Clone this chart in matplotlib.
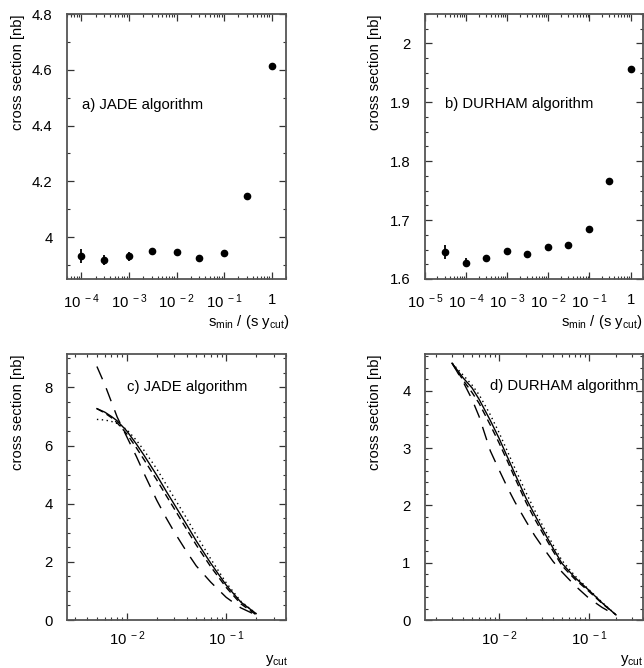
import numpy as np
import matplotlib
matplotlib.use("Agg")
import matplotlib.pyplot as plt
from matplotlib.ticker import FixedLocator, LogLocator, MultipleLocator, NullFormatter

plt.rcParams['font.family'] = ['Liberation Sans', 'DejaVu Sans']
plt.rcParams['mathtext.fontset'] = 'custom'
plt.rcParams['mathtext.rm'] = 'Liberation Sans'
plt.rcParams['mathtext.it'] = 'Liberation Sans:italic'
plt.rcParams['mathtext.default'] = 'rm'

# ---- panel a: JADE, smin dependence ----
a_x = [1e-4, 3e-4, 1e-3, 3e-3, 1e-2, 3e-2, 1e-1, 3e-1, 1.0]
a_y = [3.933, 3.919, 3.931, 3.952, 3.946, 3.924, 3.944, 4.148, 4.613]
a_err = [0.024, 0.018, 0.015, 0.010, 0.006, 0.006, 0.006, 0.004, 0.004]

# ---- panel b: DURHAM, smin dependence ----
b_x = [3e-5, 1e-4, 3e-4, 1e-3, 3e-3, 1e-2, 3e-2, 1e-1, 3e-1, 1.0]
b_y = [1.646, 1.628, 1.635, 1.648, 1.642, 1.654, 1.658, 1.685, 1.767, 1.957]
b_err = [0.012, 0.008, 0.006, 0.004, 0.003, 0.003, 0.003, 0.003, 0.003, 0.003]

# ---- panel c: JADE, ycut dependence ----
c_x = [0.005, 0.006, 0.007, 0.008, 0.01, 0.0125, 0.015, 0.02, 0.025, 0.03,
       0.04, 0.05, 0.07, 0.1, 0.14, 0.2]
c_solid = [7.27, 7.15, 7.00, 6.85, 6.50, 6.05, 5.65, 4.98, 4.42, 3.98,
           3.28, 2.72, 1.95, 1.20, 0.62, 0.22]
c_dotted = [6.90, 6.88, 6.83, 6.76, 6.55, 6.18, 5.82, 5.20, 4.65, 4.20,
            3.50, 2.92, 2.10, 1.28, 0.65, 0.22]
c_short = [7.27, 7.12, 6.96, 6.78, 6.40, 5.92, 5.50, 4.82, 4.27, 3.83,
           3.12, 2.58, 1.83, 1.12, 0.56, 0.18]
c_long = [8.72, 8.10, 7.50, 6.98, 6.30, 5.62, 5.02, 4.12, 3.50, 3.03,
          2.35, 1.86, 1.30, 0.78, 0.42, 0.17]

# ---- panel d: DURHAM, ycut dependence ----
d_x = [0.003, 0.004, 0.005, 0.006, 0.008, 0.01, 0.0125, 0.015, 0.02, 0.025,
       0.03, 0.04, 0.05, 0.07, 0.1, 0.14, 0.2]
d_solid = [4.48, 4.22, 4.05, 3.85, 3.48, 3.17, 2.83, 2.55, 2.12, 1.83,
           1.60, 1.25, 0.99, 0.74, 0.52, 0.30, 0.09]
d_dotted = [4.48, 4.27, 4.10, 3.93, 3.58, 3.27, 2.93, 2.65, 2.22, 1.91,
            1.67, 1.31, 1.04, 0.77, 0.53, 0.31, 0.09]
d_short = [4.48, 4.18, 3.97, 3.78, 3.40, 3.09, 2.76, 2.48, 2.05, 1.76,
           1.54, 1.20, 0.95, 0.71, 0.50, 0.29, 0.09]
d_long = [4.48, 4.15, 3.85, 3.55, 2.95, 2.62, 2.30, 2.06, 1.72, 1.47,
          1.29, 1.02, 0.84, 0.60, 0.38, 0.22, 0.08]

a_ticks = [1e-4, 1e-3, 1e-2, 1e-1, 1]
a_ticklabels = [r'$10^{\ -4}$', r'$10^{\ -3}$', r'$10^{\ -2}$', r'$10^{\ -1}$', '1']
b_ticks = [1e-5, 1e-4, 1e-3, 1e-2, 1e-1, 1]
b_ticklabels = [r'$10^{\ -5}$', r'$10^{\ -4}$', r'$10^{\ -3}$', r'$10^{\ -2}$', r'$10^{\ -1}$', '1']
cd_ticks = [1e-2, 1e-1]
cd_ticklabels = [r'$10^{\ -2}$', r'$10^{\ -1}$']

FS = 10.7
W, H = 644, 668
fig = plt.figure(figsize=(W / 100, H / 100), dpi=100)

def box(l, r, t, b):
    return [l / W, 1 - b / H, (r - l) / W, (b - t) / H]

ax_a = fig.add_axes(box(67, 286, 14, 279))
ax_b = fig.add_axes(box(425, 643, 14, 279))
ax_c = fig.add_axes(box(67, 286, 354, 620))
ax_d = fig.add_axes(box(425, 643, 354, 620))

spine_col = '#555555'
for ax in (ax_a, ax_b, ax_c, ax_d):
    ax.set_xscale('log')
    for s in ax.spines.values():
        s.set_color(spine_col)
        s.set_linewidth(1.3)
    ax.tick_params(which='both', direction='in', top=True, right=True,
                   color='#333333', labelsize=FS)
    ax.tick_params(which='major', length=5, width=0.9)
    ax.tick_params(which='minor', length=2.5, width=0.8)
    ax.tick_params(axis='y', which='major', pad=10.5)
    ax.xaxis.set_minor_locator(LogLocator(base=10, subs=np.arange(2, 10), numticks=20))
    ax.xaxis.set_minor_formatter(NullFormatter())
    ax.set_ylabel('cross section [nb]', fontsize=FS)

for ax in (ax_a, ax_b):
    ax.tick_params(axis='x', which='major', pad=10)
for ax in (ax_c, ax_d):
    ax.tick_params(axis='x', which='major', pad=7)

# panel a
ax_a.errorbar(a_x, a_y, yerr=a_err, fmt='o', color='black', ms=4.5,
              elinewidth=1.3, capsize=0)
ax_a.set_xlim(5e-5, 2)
ax_a.set_ylim(3.85, 4.8)
ax_a.xaxis.set_major_locator(FixedLocator(a_ticks))
ax_a.set_xticklabels(a_ticklabels)
ax_a.yaxis.set_major_locator(FixedLocator([4.0, 4.2, 4.4, 4.6, 4.8]))
ax_a.set_yticklabels(['4', '4.2', '4.4', '4.6', '4.8'])
ax_a.yaxis.set_minor_locator(MultipleLocator(0.1))
ax_a.text(0.07, 0.657, 'a) JADE algorithm', transform=ax_a.transAxes,
          fontsize=FS, va='center', ha='left')

# panel b
ax_b.errorbar(b_x, b_y, yerr=b_err, fmt='o', color='black', ms=4.5,
              elinewidth=1.3, capsize=0)
ax_b.set_xlim(1e-5, 2)
ax_b.set_ylim(1.6, 2.05)
ax_b.xaxis.set_major_locator(FixedLocator(b_ticks))
ax_b.set_xticklabels(b_ticklabels)
ax_b.yaxis.set_major_locator(FixedLocator([1.6, 1.7, 1.8, 1.9, 2.0]))
ax_b.set_yticklabels(['1.6', '1.7', '1.8', '1.9', '2'])
ax_b.yaxis.set_minor_locator(MultipleLocator(0.025))
ax_b.text(0.09, 0.66, 'b) DURHAM algorithm', transform=ax_b.transAxes,
          fontsize=FS, va='center', ha='left')

xl = r'$\mathrm{s_{min}\ /\ (s\ y_{cut})}$'
fig.text(290 / W, 1 - 322 / H, xl, ha='right', va='center', fontsize=FS)
fig.text(643 / W, 1 - 322 / H, xl, ha='right', va='center', fontsize=FS)

# panel c
lw = 1.0
ax_c.plot(c_x, c_solid, color='black', lw=lw, ls='-')
ax_c.plot(c_x, c_dotted, color='black', lw=lw, ls=(0, (1, 2.5)))
ax_c.plot(c_x, c_short, color='black', lw=lw, ls=(0, (5, 3)))
ax_c.plot(c_x, c_long, color='black', lw=lw, ls=(0, (10, 7)))
ax_c.set_xlim(2.5e-3, 0.4)
ax_c.set_ylim(0, 9.15)
ax_c.xaxis.set_major_locator(FixedLocator(cd_ticks))
ax_c.set_xticklabels(cd_ticklabels)
ax_c.yaxis.set_major_locator(FixedLocator([0, 2, 4, 6, 8]))
ax_c.yaxis.set_minor_locator(MultipleLocator(0.5))
ax_c.text(0.275, 0.876, 'c) JADE algorithm', transform=ax_c.transAxes,
          fontsize=FS, va='center', ha='left')

# panel d
ax_d.plot(d_x, d_solid, color='black', lw=lw, ls='-')
ax_d.plot(d_x, d_dotted, color='black', lw=lw, ls=(0, (1, 2.5)))
ax_d.plot(d_x, d_short, color='black', lw=lw, ls=(0, (5, 3)))
ax_d.plot(d_x, d_long, color='black', lw=lw, ls=(0, (10, 7)))
ax_d.set_xlim(1.5e-3, 0.4)
ax_d.set_ylim(0, 4.64)
ax_d.xaxis.set_major_locator(FixedLocator(cd_ticks))
ax_d.set_xticklabels(cd_ticklabels)
ax_d.yaxis.set_major_locator(FixedLocator([0, 1, 2, 3, 4]))
ax_d.yaxis.set_minor_locator(MultipleLocator(0.2))
ax_d.text(0.298, 0.88, 'd) DURHAM algorithm', transform=ax_d.transAxes,
          fontsize=FS, va='center', ha='left')

yc = r'$\mathrm{y_{cut}}$'
fig.text(288 / W, 1 - 661 / H, yc, ha='right', va='center', fontsize=FS)
fig.text(643 / W, 1 - 661 / H, yc, ha='right', va='center', fontsize=FS)

# y labels: top-aligned at axis top, at fixed pixel x
for ax, xpx in ((ax_a, 18), (ax_b, 375), (ax_c, 18), (ax_d, 375)):
    pos = ax.get_position()
    ax.yaxis.set_label_coords((xpx / W - pos.x0) / (pos.x1 - pos.x0), 1.0)
    ax.yaxis.label.set_va('center')
    ax.yaxis.label.set_ha('right')

fig.savefig('out.png', dpi=100)
